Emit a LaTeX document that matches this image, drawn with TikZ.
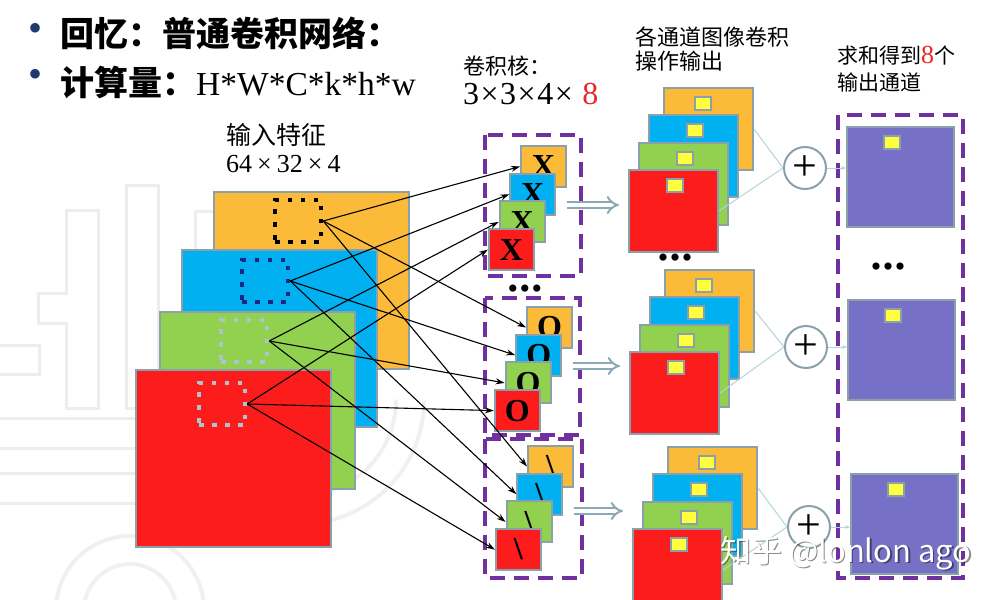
\documentclass[tikz,border=0pt]{standalone}
\usepackage{fontspec}
\setmainfont{Liberation Serif}
\newfontfamily\cjk{Noto Sans CJK SC}
\usetikzlibrary{arrows.meta, calc, positioning}
\definecolor{mapo}{RGB}{252,186,57}
\definecolor{mapb}{RGB}{0,176,240}
\definecolor{mapg}{RGB}{146,208,80}
\definecolor{mapr}{RGB}{252,28,28}
\definecolor{mapp}{RGB}{118,113,198}
\definecolor{boxpurple}{RGB}{112,48,160}
\definecolor{rimgray}{RGB}{138,160,170}
\definecolor{dotyellow}{RGB}{255,255,64}
\definecolor{winnavy}{RGB}{28,40,128}
\definecolor{winpale}{RGB}{170,196,208}
\definecolor{sumline}{RGB}{178,212,218}
\definecolor{fatgray}{RGB}{140,170,182}
\definecolor{bulletblue}{RGB}{30,58,110}
\definecolor{numred}{RGB}{230,40,40}
\newcommand{\crs}[1]{\kern#1×\kern#1}
\newcommand{\threedots}{\textbullet\kern1.5pt\textbullet\kern1.5pt\textbullet}

\begin{document}
\begin{tikzpicture}[x=1pt, y=-1pt, >=Stealth,
    fmap/.style={draw=rimgray, line width=2pt, anchor=north west, inner sep=0pt},
    win/.style={line width=4.5pt, dash pattern=on 4.5pt off 8.5pt, minimum width=46pt, minimum height=42pt, inner sep=0pt},
    kern/.style={fmap, minimum width=45pt, minimum height=41pt, font=\fontsize{32}{32}\selectfont\bfseries},
    ydot/.style={fmap, fill=dotyellow, minimum width=16pt, minimum height=13pt, line width=1.5pt},
    kbox/.style={draw=boxpurple, line width=4pt, dash pattern=on 15pt off 9pt},
    link/.style={-{Stealth[length=9pt,width=6pt]}, line width=1.1pt},
    sumlink/.style={draw=sumline, line width=1pt},
    fat/.style={-{Implies}, draw=fatgray, double=white, double distance=4pt, line width=2pt, shorten >=9pt},
    plus/.style={circle, draw=rimgray, fill=white, line width=2pt, minimum size=42pt, inner sep=0pt, font=\fontsize{44}{44}\selectfont},
    lab/.style={anchor=west, inner sep=0pt, font=\cjk\fontsize{22}{22}\selectfont},
    ellip/.style={inner sep=0pt, font=\fontsize{30}{30}\selectfont},
    bul/.style={inner sep=0pt, text=bulletblue, font=\fontsize{40}{40}\selectfont},
    title/.style={anchor=west, inner sep=0pt, font=\cjk\bfseries\fontsize{34}{34}\selectfont}]
\useasboundingbox (0,0) rectangle (989,600);

\foreach \a/\b/\c/\d in {68/212/97/407, 128/187/157/407, 40/295/68/322, -10/347/38/373, -10/420/160/447, -10/475/160/502, 197/213/215/300}
{
    \draw[black!7, line width=6pt] (\a,\b) rectangle (\c,\d);
}
\foreach \a/\b/\c/\d in {68/212/97/407, 128/187/157/407, 40/295/68/322, -10/347/38/373, -10/420/160/447, -10/475/160/502, 197/213/215/300}
{
    \fill[white] (\a,\b) rectangle (\c,\d);
}
\draw[black!6, line width=32pt] (70,610) arc[start angle=180, end angle=360, radius=60];
\draw[white, line width=24pt] (70,610) arc[start angle=180, end angle=360, radius=60];
\draw[black!6, line width=32pt] (410,400) arc[start angle=0, end angle=180, radius=110];
\draw[white, line width=24pt] (410,400) arc[start angle=0, end angle=180, radius=110];

\node[bul] (b1) at (36,32) {•};
\node[bul] (b2) at (36,78) {•};
\node[title] (t1) at (60,33) {回忆：普通卷积网络：};
\node[title] (t2) at (60,82) {计算量：{\normalfont\fontsize{33.5}{33.5}\selectfont H*W*C*k*h*w}};

\node[lab, font=\cjk\fontsize{25}{25}\selectfont] (l1) at (226,135) {输入特征};
\node[lab, font=\fontsize{26}{26}\selectfont] (l2) at (226,164) {64\crs{5pt}32\crs{5pt}4};
\node[lab] (l3) at (463,66) {卷积核：};
\node[lab, font=\fontsize{32}{32}\selectfont] (l4) at (463,94) {3\crs{1.5pt}3\crs{1.5pt}4\crs{1.5pt}\ \textcolor{numred}{8}};
\node[lab] (l5) at (635,37) {各通道图像卷积};
\node[lab] (l6) at (635,61) {操作输出};
\node[lab, font=\cjk\fontsize{21}{21}\selectfont] (l7) at (837,56) {求和得到{\normalfont\fontsize{26}{26}\selectfont\textcolor{numred}{8}}个};
\node[lab, font=\cjk\fontsize{21}{21}\selectfont] (l8) at (837,82) {输出通道};

\foreach \c/\x/\y [count=\i from 0] in {mapo/213/191, mapb/181/249, mapg/159/311, mapr/135/369}
{
    \node[fmap, fill=\c, minimum width=195pt, minimum height=177pt] (in\i) at (\x,\y) {};
}
\foreach \c/\x/\y [count=\i from 0] in {black/298/221, winnavy/265/281, winpale/244/341, winpale/222/404}
{
    \node[win, draw=\c] (w\i) at (\x,\y) {};
}

\draw[kbox] (485,135) rectangle (581,276);
\draw[kbox] (485,298) rectangle (580,435);
\draw[kbox] (485,439) rectangle (582,578);
\draw[kbox] (838,115) rectangle (963,578);

\foreach \s/\bx/\by [count=\j] in {X/520/145, O/526/306, \textbackslash/527/445}
{
    \foreach \c [count=\i from 0] in {mapo,mapb,mapg,mapr}
    {
        \node[kern, fill=\c] (k\j-\i) at ({\bx-10.7*\i},{\by+27.7*\i}) {\s};
    }
}
\foreach \i in {0,...,3}
{
    \foreach \j in {1,2,3}
    {
        \draw[link] (w\i.east) -- (k\j-\i.west);
    }
}

\foreach \bx/\by [count=\j] in {663/87, 664/269, 667/446}
{
    \foreach \c/\dx/\dy/\yx [count=\i from 0] in {mapo/0/0/31, mapb/-15/27/38, mapg/-25/55/38, mapr/-35/82/38}
    {
        \node[fmap, fill=\c, minimum width=89pt, minimum height=82pt] (o\j-\i) at ({\bx+\dx},{\by+\dy}) {};
        \node[ydot] (y\j-\i) at ($(o\j-\i.north west)+(\yx,9)$) {};
    }
}
\foreach \x/\y/\py [count=\j] in {846/126/168, 847/299/347, 850/473/527}
{
    \node[fmap, fill=mapp, minimum width=107pt, minimum height=100pt] (u\j) at (\x,\y) {};
    \node[ydot] (v\j) at ($(u\j.north west)+(37,9)$) {};
    \node[plus] (p\j) at ({\x-41},\py) {+};
}
\foreach \j in {1,2,3}
{
    \draw[sumlink] (o\j-0.east) -- (p\j.west);
    \draw[sumlink] (o\j-3.east) -- (p\j.west);
    \draw[sumlink, -{Stealth[length=5pt]}] (p\j.east) -- (p\j.east -| u\j.west);
}
\foreach \j/\y in {1/205, 2/366, 3/511}
{
    \draw[fat] (k\j-0.east |- 0,\y) -- (o\j-3.west |- 0,\y);
}

\node[ellip] (d1) at (525,292) {\threedots};
\node[ellip] (d2) at (675,261) {\threedots};
\node[ellip] (d3) at (888,270) {\threedots};

\node[anchor=west, inner sep=0pt, text=black, opacity=0.45, font=\cjk\fontsize{31}{31}\selectfont] (wm0) at (721.5,554.5) {知乎 @lonlon ago};
\node[anchor=west, inner sep=0pt, text=white, font=\cjk\fontsize{31}{31}\selectfont] (wm) at (720,553) {知乎 @lonlon ago};
\end{tikzpicture}
\end{document}
